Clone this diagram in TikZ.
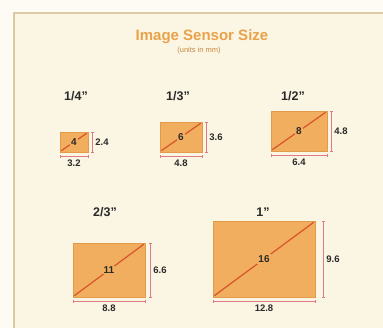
\documentclass[tikz,border=0pt]{standalone}
\usepackage{fontspec}
\setmainfont{Liberation Sans}
\usetikzlibrary{arrows.meta}
\definecolor{bgcream}{HTML}{FBF5E3}
\definecolor{framecol}{HTML}{D9CBA6}
\definecolor{sensorfill}{HTML}{F0AE5E}
\definecolor{sensoredge}{HTML}{E29B4A}
\definecolor{diagcol}{HTML}{D9532B}
\definecolor{dimcol}{HTML}{E07A86}
\definecolor{titlecol}{HTML}{E9A24A}
\definecolor{textcol}{HTML}{2A2A2A}
\tikzset{
  sensorrect/.style={draw=sensoredge, line width=0.5pt, fill=sensorfill, inner sep=0pt},
  diagline/.style={draw=diagcol, line width=1.2pt},
  diaglabel/.style={font=\bfseries\fontsize{10}{10}\selectfont, text=textcol, fill=sensorfill, inner sep=1pt},
  dimline/.style={draw=dimcol, line width=0.6pt, {Bar[width=3pt]}-{Bar[width=3pt]}},
  dimlabel/.style={font=\bfseries\fontsize{9.5}{9.5}\selectfont, text=textcol, inner sep=0pt},
  sizelabel/.style={font=\bfseries\fontsize{12.5}{12.5}\selectfont, text=textcol},
  titletext/.style={font=\bfseries\fontsize{15}{15}\selectfont, text=titlecol},
  subtitletext/.style={font=\fontsize{7.5}{7.5}\selectfont, text=titlecol!85!black},
}
% #1 name, #2 cx, #3 bottom, #4 w, #5 h, #6 diag, #7 width label, #8 height label, #9 vertical gap
\newcommand{\sensorbox}[9]{%
  \node[sensorrect, minimum width=#4pt, minimum height=#5pt] (#1) at (#2, #3-#5/2) {};
  \draw[diagline] ([shift={(1.5pt,1.5pt)}]#1.south west) -- ([shift={(-1.5pt,-1.5pt)}]#1.north east);
  \node[diaglabel] (#1d) at (#1.center) {#6};
  \draw[dimline] ([xshift=#9pt]#1.north east) coordinate (#1vt) -- ([xshift=#9pt]#1.south east) coordinate (#1vb);
  \node[dimlabel, anchor=west] (#1h) at ([xshift=#9pt+3pt]#1.east) {#8};
  \draw[dimline] ([yshift=-4pt]#1.south west) coordinate (#1hl) -- ([yshift=-4pt]#1.south east) coordinate (#1hr);
  \node[dimlabel, anchor=north] (#1w) at ([yshift=-7.5pt]#1.south) {#7};
}
\begin{document}
\begin{tikzpicture}[x=1pt, y=-1pt]
  \useasboundingbox (0,0) rectangle (383,328);
  \fill[white!60!bgcream] (0,0) rectangle (383,328);
  \draw[fill=bgcream, draw=framecol, line width=1.2pt] (14,13) rectangle (395,340);
  \node[titletext] (title) at (202,37) {Image Sensor Size};
  \node[subtitletext] (subtitle) at (199,51) {(units in mm)};

  \node[sizelabel] (l1) at (76,96) {1/4"};
  \node[sizelabel] (l2) at (178,96) {1/3"};
  \node[sizelabel] (l3) at (293,96) {1/2"};
  \node[sizelabel] (l4) at (105,212) {2/3"};
  \node[sizelabel] (l5) at (263,212) {1"};

  \sensorbox{s1}{74}{152}{28}{20}{4}{3.2}{2.4}{4}
  \sensorbox{s2}{181}{152}{42}{30}{6}{4.8}{3.6}{4}
  \sensorbox{s3}{299}{151}{56}{40}{8}{6.4}{4.8}{4}
  \sensorbox{s4}{109}{297}{72}{54}{11}{8.8}{6.6}{5}
  \sensorbox{s5}{264}{297}{102}{76}{16}{12.8}{9.6}{8}
\end{tikzpicture}
\end{document}
